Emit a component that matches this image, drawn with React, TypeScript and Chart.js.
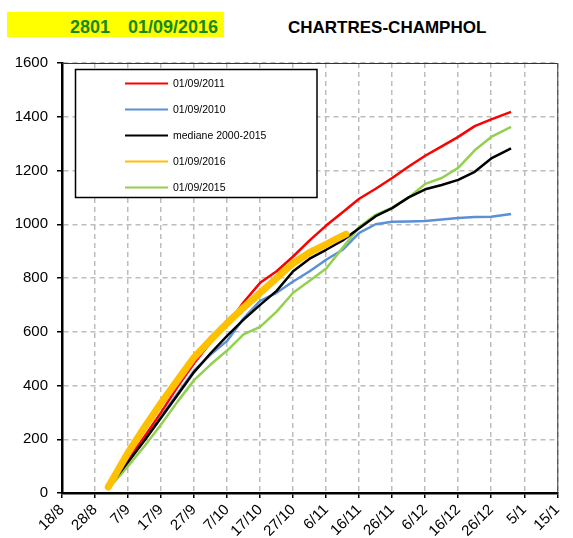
import React, { useEffect, useRef } from 'react';
import { Chart, registerables } from 'chart.js';

Chart.register(...registerables);

// x values are days counted from 18/8
const xTickLabels = ['18/8', '28/8', '7/9', '17/9', '27/9', '7/10', '17/10', '27/10', '6/11', '16/11', '26/11', '6/12', '16/12', '26/12', '5/1', '15/1'];

const days = [14, 20, 25, 30, 35, 40, 45, 50, 55, 60, 65, 70, 75, 80, 85, 90, 95, 100, 105, 110, 115, 120, 125, 130, 136];
const values2011 = [20, 125, 210, 300, 395, 483, 560, 625, 710, 782, 825, 880, 940, 995, 1045, 1095, 1132, 1172, 1215, 1255, 1290, 1325, 1365, 1390, 1418];
const values2010 = [20, 118, 200, 285, 370, 455, 515, 566, 650, 715, 745, 787, 825, 868, 905, 968, 1000, 1009, 1010, 1012, 1018, 1023, 1027, 1028, 1038];
const valuesMedian = [20, 115, 195, 280, 365, 450, 520, 585, 645, 700, 752, 825, 872, 905, 940, 985, 1030, 1060, 1100, 1130, 1146, 1165, 1195, 1245, 1282];
const values2015 = [15, 100, 175, 255, 340, 420, 478, 530, 590, 618, 675, 745, 790, 835, 912, 990, 1035, 1062, 1100, 1150, 1172, 1210, 1275, 1325, 1362];

const days2016 = [14, 20, 25, 30, 35, 40, 45, 50, 55, 60, 65, 70, 75, 80, 83, 86];
const values2016 = [22, 150, 245, 335, 420, 505, 570, 632, 690, 745, 800, 855, 895, 925, 945, 963];

const FONT = 'Liberation Sans, Arial, sans-serif';

const toPoints = (xs: number[], ys: number[]) => xs.map((x, i) => ({ x, y: ys[i] }));

const framePlugin = {
  id: 'frame',
  afterDraw(chart: any) {
    const { ctx, chartArea } = chart;
    ctx.save();
    ctx.strokeStyle = '#333';
    ctx.lineWidth = 1;
    ctx.beginPath();
    ctx.moveTo(chartArea.left, chartArea.top + 0.5);
    ctx.lineTo(chartArea.right + 0.5, chartArea.top + 0.5);
    ctx.lineTo(chartArea.right + 0.5, chartArea.bottom);
    ctx.stroke();

    // legend box
    const bx = 75.5, by = 69.5, bw = 241.5, bh = 128;
    ctx.fillStyle = '#fff';
    ctx.fillRect(bx, by, bw, bh);
    ctx.strokeStyle = '#000';
    ctx.lineWidth = 1.5;
    ctx.strokeRect(bx, by, bw, bh);
    chart.data.datasets.forEach((ds: any, i: number) => {
      const y = 83.5 + i * 26;
      ctx.strokeStyle = ds.borderColor;
      ctx.lineWidth = 2;
      ctx.beginPath();
      ctx.moveTo(125, y);
      ctx.lineTo(168, y);
      ctx.stroke();
      ctx.fillStyle = '#000';
      ctx.font = `10.5px ${FONT}`;
      ctx.textBaseline = 'middle';
      ctx.textAlign = 'left';
      ctx.fillText(ds.label, 173, y + 0.5);
    });
    ctx.restore();
  },
};

export default function App() {
  const canvasRef = useRef<HTMLCanvasElement | null>(null);

  useEffect(() => {
    if (!canvasRef.current) return;
    const chart = new Chart(canvasRef.current, {
      type: 'line',
      data: {
        datasets: [
          { label: '01/09/2011', data: toPoints(days, values2011), borderColor: '#ff0000', borderWidth: 2.5, order: 2 },
          { label: '01/09/2010', data: toPoints(days, values2010), borderColor: '#5b8fd6', borderWidth: 2.5, order: 4 },
          { label: 'mediane 2000-2015', data: toPoints(days, valuesMedian), borderColor: '#000000', borderWidth: 2.5, order: 1 },
          { label: '01/09/2016', data: toPoints(days2016, values2016), borderColor: '#ffc000', borderWidth: 7, borderCapStyle: 'round', order: 0 },
          { label: '01/09/2015', data: toPoints(days, values2015), borderColor: '#92d050', borderWidth: 2.5, order: 3 },
        ] as any,
      },
      options: {
        responsive: false,
        animation: false,
        events: [],
        layout: { padding: { top: 63, right: 4, left: 0, bottom: 0 } },
        elements: {
          point: { radius: 0 },
          line: { tension: 0, borderJoinStyle: 'round', fill: false },
        },
        plugins: {
          legend: { display: false },
          title: { display: false },
          tooltip: { enabled: false },
        },
        scales: {
          x: {
            type: 'linear',
            min: 0,
            max: 150,
            afterFit: (s: any) => { s.height = 45; },
            afterBuildTicks: (s: any) => {
              s.ticks = xTickLabels.map((_, i) => ({ value: i * 10 }));
            },
            ticks: {
              autoSkip: false,
              maxRotation: 45,
              minRotation: 45,
              padding: 3,
              color: '#000',
              font: { family: FONT, size: 15 },
              callback: (_v: any, i: number) => xTickLabels[i],
            },
            grid: {
              color: '#bdbdbd',
              lineWidth: 1.5,
              tickColor: '#000',
              tickLength: 5,
              tickWidth: 1.5,
              tickBorderDash: [],
            },
            border: { display: true, color: '#000', width: 2.5, dash: [5, 4] },
          },
          y: {
            min: 0,
            max: 1600,
            afterFit: (s: any) => { s.width = 62; },
            ticks: {
              stepSize: 200,
              padding: 9,
              color: '#000',
              font: { family: FONT, size: 15 },
              callback: (v: any) => String(v),
            },
            grid: {
              color: '#bdbdbd',
              lineWidth: 1.5,
              tickColor: '#000',
              tickLength: 5,
              tickWidth: 1.5,
              tickBorderDash: [],
            },
            border: { display: true, color: '#000', width: 2.5, dash: [5, 4] },
          },
        },
      } as any,
      plugins: [framePlugin],
    });
    return () => chart.destroy();
  }, []);

  return (
    <div style={{ position: 'absolute', left: 0, top: 0, width: 573, height: 538, background: '#fff', fontFamily: FONT }}>
      <div style={{ position: 'absolute', left: 7, top: 12, width: 217, height: 25, background: '#ffff00' }} />
      <div style={{ position: 'absolute', left: 70, top: 18, fontSize: 18, lineHeight: '18px', fontWeight: 'bold', color: '#138a13', whiteSpace: 'nowrap' }}>2801</div>
      <div style={{ position: 'absolute', left: 128, top: 18, fontSize: 18, lineHeight: '18px', fontWeight: 'bold', color: '#138a13', whiteSpace: 'nowrap' }}>01/09/2016</div>
      <div style={{ position: 'absolute', left: 288, top: 19, fontSize: 17, lineHeight: '17px', fontWeight: 'bold', color: '#000', whiteSpace: 'nowrap' }}>CHARTRES-CHAMPHOL</div>
      <canvas ref={canvasRef} width={573} height={538} style={{ position: 'absolute', left: 0, top: 0 }} />
    </div>
  );
}
